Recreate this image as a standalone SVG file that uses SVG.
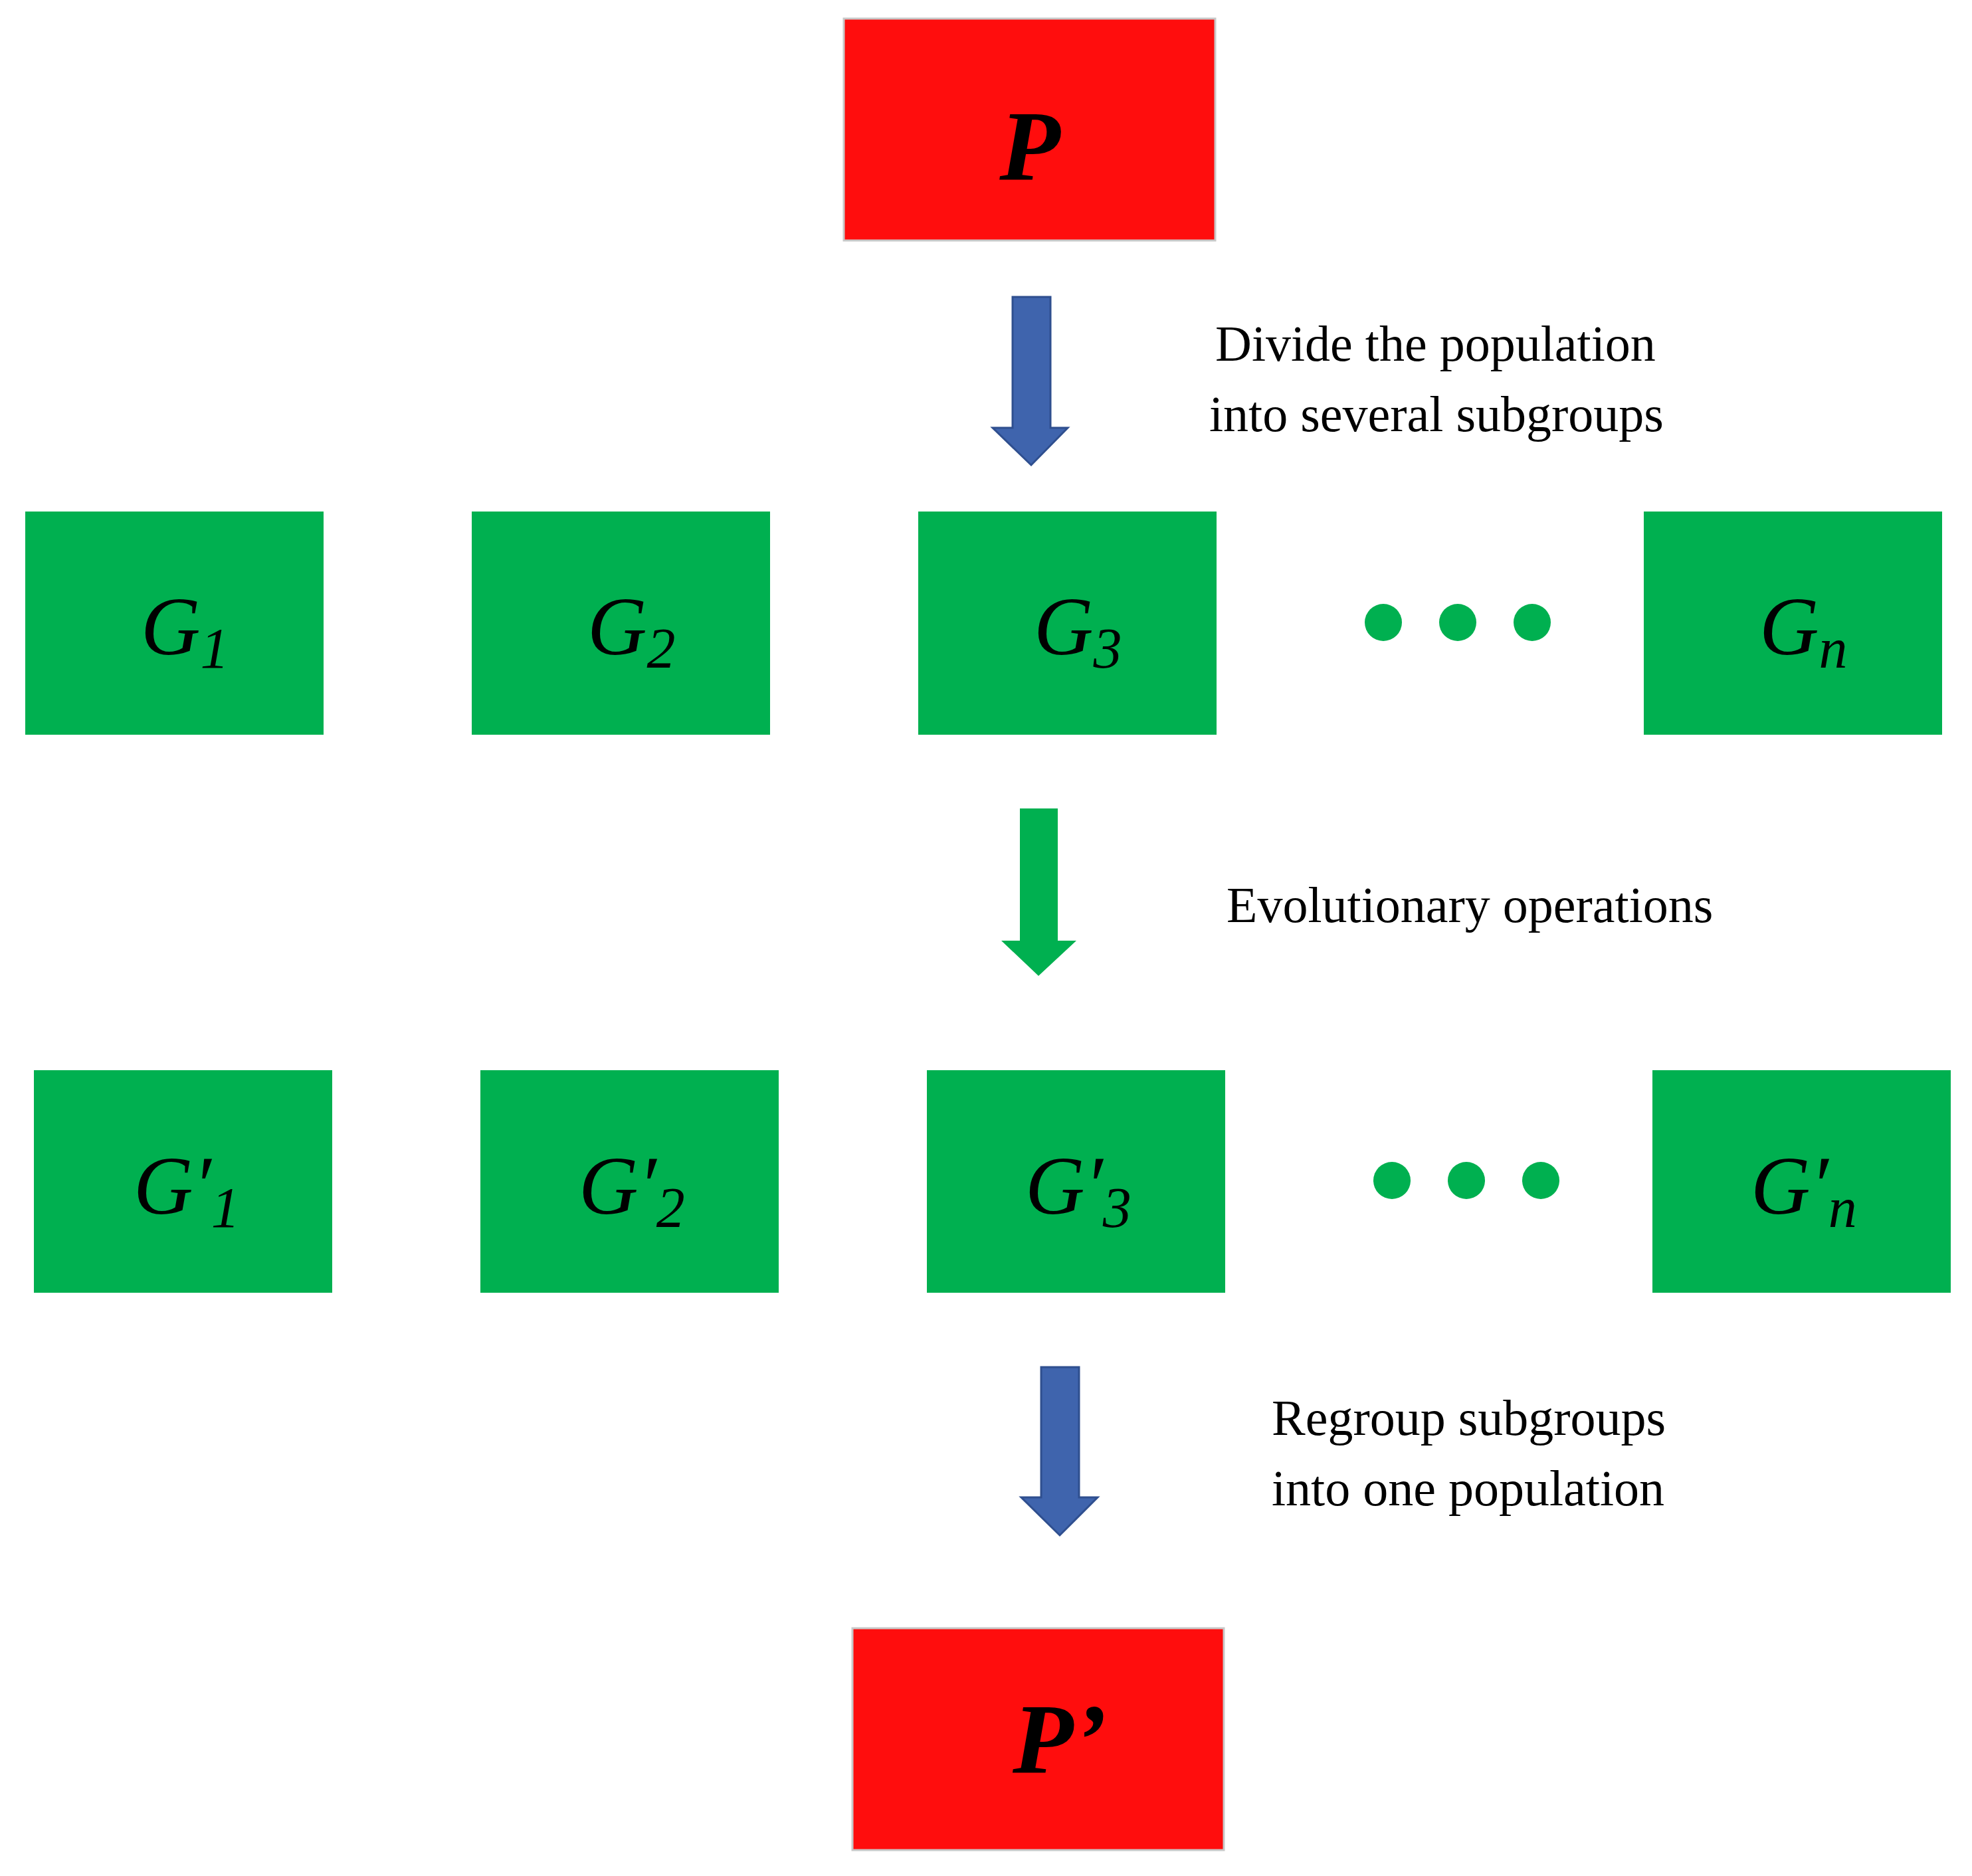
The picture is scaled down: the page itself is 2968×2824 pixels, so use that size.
<svg xmlns="http://www.w3.org/2000/svg" width="2968" height="2824" viewBox="0 0 2968 2824">
<style>
.red{fill:#ff0d0d;stroke:#c8c8c8;stroke-width:3}
.grn{fill:#00b050}
.lab{font-family:"Liberation Serif",serif;font-style:italic;font-size:124px;fill:#000}
.sub{font-size:86px}
.big{font-family:"Liberation Serif",serif;font-style:italic;font-weight:bold;font-size:150px;fill:#000}
.txt{font-family:"Liberation Serif",serif;font-size:76px;fill:#000}
</style>
<rect width="2968" height="2824" fill="#fff"/>
<g id="P"><rect class="red" x="1270" y="28" width="559" height="334"/><text class="big" x="1550" y="271" text-anchor="middle">P</text></g>
<g id="connectors">
<polygon points="1524,447 1581,447 1581,644 1607,644 1552,700 1494,644 1524,644" fill="#3f64ad" stroke="#2f4f8f" stroke-width="3"/>
<polygon points="1535,1217 1592,1217 1592,1416 1620,1416 1563,1469 1507,1416 1535,1416" fill="#00b050"/>
<polygon points="1567,2058 1624,2058 1624,2254 1652,2254 1595,2311 1537,2254 1567,2254" fill="#3f64ad" stroke="#2f4f8f" stroke-width="3"/>
</g>
<g id="labels">
<text class="txt" x="1829" y="543">Divide the population</text>
<text class="txt" x="1820" y="649">into several subgroups</text>
<text class="txt" x="1846" y="1388">Evolutionary operations</text>
<text class="txt" x="1914" y="2160">Regroup subgroups</text>
<text class="txt" x="1914" y="2266">into one population</text>
</g>
<g id="G1"><rect class="grn" x="38" y="770" width="449" height="336"/><text class="lab" x="212" y="985">G<tspan class="sub" dy="20">1</tspan></text></g>
<g id="G2"><rect class="grn" x="710" y="770" width="449" height="336"/><text class="lab" x="884" y="985">G<tspan class="sub" dy="20">2</tspan></text></g>
<g id="G3"><rect class="grn" x="1382" y="770" width="449" height="336"/><text class="lab" x="1556" y="985">G<tspan class="sub" dy="20">3</tspan></text></g>
<g id="dots1" fill="#00b050"><circle cx="2082" cy="937" r="28"/><circle cx="2194" cy="937" r="28"/><circle cx="2306" cy="937" r="28"/></g>
<g id="Gn"><rect class="grn" x="2474" y="770" width="449" height="336"/><text class="lab" x="2648" y="985">G<tspan class="sub" dy="20">n</tspan></text></g>
<g id="G1p"><rect class="grn" x="51" y="1611" width="449" height="335"/><text class="lab" x="201" y="1827">G′<tspan class="sub" dy="20">1</tspan></text></g>
<g id="G2p"><rect class="grn" x="723" y="1611" width="449" height="335"/><text class="lab" x="871" y="1827">G′<tspan class="sub" dy="20">2</tspan></text></g>
<g id="G3p"><rect class="grn" x="1395" y="1611" width="449" height="335"/><text class="lab" x="1543" y="1827">G′<tspan class="sub" dy="20">3</tspan></text></g>
<g id="dots2" fill="#00b050"><circle cx="2095" cy="1777" r="28"/><circle cx="2207" cy="1777" r="28"/><circle cx="2319" cy="1777" r="28"/></g>
<g id="Gnp"><rect class="grn" x="2487" y="1611" width="449" height="335"/><text class="lab" x="2635" y="1827">G′<tspan class="sub" dy="20">n</tspan></text></g>
<g id="Pp"><rect class="red" x="1283" y="2451" width="559" height="334"/><text class="big" x="1524" y="2669">P’</text></g>
</svg>
